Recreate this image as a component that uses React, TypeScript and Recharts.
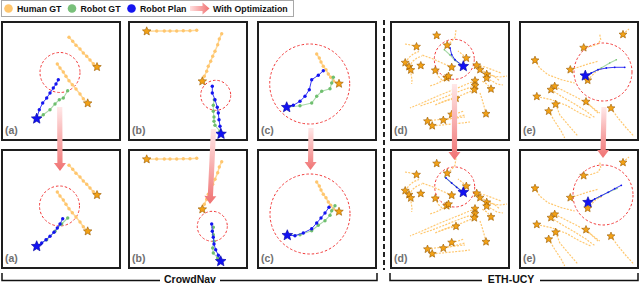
import React from 'react';
import { ScatterChart, Scatter, XAxis, YAxis, ReferenceDot, ReferenceLine } from 'recharts';

type Pt = [number, number];
type Traj = Pt[];

// ---------- Data (panel-local units, 0..120 each axis, y downward) ----------
const sceneA_humans: Traj[] = [
  [[96, 46], [92.3, 42.7], [89, 39], [85.7, 35.3], [82.3, 32], [79, 28], [75, 24.3], [71.7, 20.3], [68, 16.3]],
  [[86.7, 82.3], [82.3, 77.7], [79, 73], [75, 68], [71.3, 63.7], [68, 59.7], [65, 55.3], [62.3, 51], [59, 47], [56.3, 43]],
];
const sceneA_planTop: Traj = [[35.7, 97.7], [38.3, 88.7], [41.7, 82], [45.7, 77], [49, 72], [52.3, 67], [55, 63], [57.3, 58.7]];
const sceneA_gtTop: Traj = [[35.7, 97.7], [42.3, 93.7], [49, 88.7], [54, 83], [58.3, 78.7], [62.3, 77], [66.7, 69.7]];
const sceneA_planBot: Traj = [[35.7, 97.3], [40.7, 94], [45, 90.7], [49, 87.3], [53, 83.3], [56.3, 79], [59, 75], [61.7, 69.7]];
const sceneA_gtBot: Traj = [[35.7, 97.3], [45.7, 90.7], [54, 82.3], [60.7, 75], [66.7, 69]];
const sceneA_circleTop = [59, 51.5, 20];
const sceneA_circleBot = [58.5, 57, 20];

const sceneB_humans: Traj[] = [
  [[18.7, 10.3], [28.7, 10], [36.3, 10], [42, 10], [48.7, 10], [55.3, 9.7], [62, 9.7], [68.7, 9.3]],
  [[74.3, 60.3], [76.3, 55.3], [78.7, 50.3], [80.3, 45.3], [82.7, 40.3], [84.7, 35.3], [87, 30.3], [89.7, 23.7], [91.3, 18], [93.7, 12.7]],
];
const sceneB_planTop: Traj = [[93, 113], [92, 105.3], [91, 98.7], [90.3, 92], [89.3, 86.3], [87, 78.7], [84.3, 72], [84.3, 65.3]];
const sceneB_gtTop: Traj = [[93, 113], [92, 110.3], [87, 104.3], [86, 100.3], [86, 96], [85.3, 90.3], [85.3, 84.3], [86.3, 78.7]];
const sceneB_planBot: Traj = [[92.7, 112.3], [90.3, 106.3], [87.7, 100.7], [86, 95], [85.3, 88.3], [84.3, 82.3], [83.7, 75]];
const sceneB_gtBot: Traj = [[92.7, 112.3], [89.7, 109], [85.3, 104], [84.7, 99], [86, 92.3], [85.3, 85.7], [85.3, 78.3]];
const sceneB_circleTop = [87.7, 74.3, 15];
const sceneB_circleBot = [84.3, 77.3, 15];

const sceneC_humans: Traj[] = [
  [[82, 62.7], [76.3, 59.7], [73.7, 56.3], [71.3, 53], [69, 48.7], [66.3, 45.3], [64, 41], [62.3, 37], [59.7, 33]],
];
const sceneC_planTop: Traj = [[29.7, 86.3], [36.3, 84.3], [43, 80.3], [48, 75.3], [52.3, 68.7], [54.7, 58.7], [61.3, 54.3], [66.3, 49.7]];
const sceneC_gtTop: Traj = [[29.7, 86.3], [43, 84.7], [54.7, 82], [59.7, 75.3], [64.7, 70.3], [73, 67.7], [74.7, 62], [76.3, 56.3]];
const sceneC_planBot: Traj = [[30.3, 86.3], [38, 86.7], [46.3, 84], [54.7, 79.7], [59.7, 74], [64, 69], [68, 64], [72, 58.3]];
const sceneC_gtBot: Traj = [[30.3, 86.3], [43, 85.7], [54.7, 81.7], [61.3, 76.3], [68, 71.7], [73, 66.3], [74.7, 61.7], [78, 56.7]];
const sceneC_circleTop = [52.7, 63, 40];
const sceneC_circleBot = [53, 65, 40];

const sceneD_humans: Traj[] = [
  [[46.7, 14.5]],
  [[57.2, 24.3], [61.7, 20.3], [65, 16.3], [66, 8.7]],
  [[26.5, 25.7], [21, 24], [15, 23]],
  [[15.2, 41.7], [19, 36.5], [24, 32.5], [29, 30.5]],
  [[19, 45.7], [22.5, 40.5], [27, 37], [32, 35]],
  [[20.8, 49], [21.2, 54], [22, 59], [21.7, 63]],
  [[61.7, 46.3], [52, 42], [42, 37.5], [32, 34]],
  [[30.8, 44.6]],
  [[45.3, 49.4], [48.3, 55.3], [51.7, 58.7], [56.7, 60.3]],
  [[56.7, 56.8], [52, 60], [46, 63], [40, 65]],
  [[58.5, 55.2]],
  [[76.3, 37.2], [72, 33], [68, 30]],
  [[86.7, 44.3], [95, 46], [103, 49], [111, 52]],
  [[90, 48.7], [98, 52], [105, 56], [110, 60]],
  [[96.7, 53.3], [103, 55], [110, 56], [117, 55]],
  [[96.7, 57.2], [102, 60], [107, 63], [113, 64]],
  [[85, 59.7], [70, 66], [50, 74], [32, 82], [20, 87]],
  [[85, 64.7], [70, 70], [55, 76], [42, 81], [30, 85]],
  [[84.3, 68.8], [72, 74], [60, 78], [50, 82]],
  [[101, 68], [97, 63], [92, 60]],
  [[96, 92.8], [94, 85], [92, 78], [90, 72]],
  [[37.5, 100.2], [45, 99], [55, 98], [65, 97], [75, 96]],
  [[42.2, 104.8], [52, 104], [62, 103], [72, 102], [80, 101]],
  [[53.3, 99.2], [60, 98], [67, 96], [75, 94]],
  [[61.7, 93.5], [68, 92], [74, 90]],
  [[66, 77.3], [55, 80], [45, 84]],
];
const sceneD_planTop: Traj = [[73.3, 45.3], [65, 38.7], [61.7, 33.7], [60, 27]];
const sceneD_gtTop: Traj = [[73.3, 45.3], [65, 39.5], [60, 34], [54.3, 28.7]];
const sceneD_planBot: Traj = [[73.3, 43.3], [66.7, 38.3], [61.7, 34], [56, 29]];
const sceneD_gtBot: Traj = [[73.3, 43.3], [66, 37.5], [61, 33.5], [55, 28.3]];
const sceneD_circleTop = [64.3, 38.3, 20];
const sceneD_circleBot = [64.7, 38, 20];

const sceneE_humans: Traj[] = [
  [[104, 13.5], [107, 10.5], [110, 8]],
  [[64.7, 26.7], [72.3, 25.3], [79, 23], [81.7, 18.7], [80.7, 13]],
  [[16, 39.3], [20.7, 47], [29, 53.7], [42.3, 58.7], [55.7, 62]],
  [[51.3, 48.7], [59, 46.3], [69, 43], [79, 40.3]],
  [[68.7, 59.3], [72.3, 55.3], [77.3, 50.3], [84, 47]],
  [[35.7, 65.3], [45.7, 70.3], [59, 77], [70.7, 84.3], [79, 92]],
  [[32, 68.7], [42.3, 75.3], [55.7, 83], [67.3, 90.3], [76.3, 97]],
  [[17.8, 75.5], [32.3, 78.7], [47.3, 84.3], [60.7, 92], [71.7, 97]],
  [[67, 80.7], [74, 87], [80.7, 92]],
  [[36.7, 83.3], [40.7, 93.7], [49, 103.7], [59, 115.3]],
  [[29.7, 90.2], [35.7, 100.3], [42.3, 110.3], [45.7, 117]],
  [[92, 87.2], [99, 97], [107.3, 107], [115, 115.3]],
];
const sceneE_planTop: Traj = [[66.3, 54.7], [72.3, 52], [79, 48.7], [87.3, 47], [95.7, 46.3], [105.7, 46.3]];
const sceneE_gtTop: Traj = [[66.3, 54.7], [72.3, 52], [82.3, 47], [90.7, 42], [97.3, 38.7]];
const sceneE_planBot: Traj = [[69, 53.3], [75.7, 50], [82.3, 46.7], [89, 43.3], [95.7, 39.7], [102.3, 36.3]];
const sceneE_gtBot: Traj = [[69, 53.3], [80, 48], [90, 43], [98, 39.5]];
const sceneE_circleTop = [84, 51, 29];
const sceneE_circleBot = [84, 46, 30];

const panelLabels = ['(a)', '(b)', '(c)', '(d)', '(e)'];
const legendLabels = ['Human GT', 'Robot GT', 'Robot Plan', 'With Optimization'];
const groupLabels = ['CrowdNav', 'ETH-UCY'];

// optimization arrows (figure units)
const arrows = [
  [59.7, 107, 60, 171],
  [213.5, 129, 210, 204],
  [311, 128, 310.5, 170],
  [454.5, 84, 454.5, 160],
  [604, 107, 603, 158],
];

// ---------- Layout / style ----------
const PW = 120;
const PH = 120;
const FIG_W = 640;
const FIG_H = 283;
const colLefts = [1, 128, 257, 390, 519];
const rowTops = [21, 149];
const FONT = '"Liberation Sans", Arial, sans-serif';

const HUMAN_DOT = '#FFC66E';
const HUMAN_LINE = '#FFD998';
const HUMAN_TRAIL = '#FFC870';
const STAR_FILL = '#F2A116';
const STAR_STROKE = '#9A5A00';
const GT_DOT = '#6FBF6F';
const GT_LINE = '#A9DAA9';
const PLAN_DOT = '#1414F0';
const PLAN_LINE = '#3A3AF5';
const CIRCLE = '#F23A3A';

const toPts = (t: Traj) => t.map(([x, y]) => ({ x, y }));

function starPoints(cx: number, cy: number, R: number) {
  const pts: string[] = [];
  for (let i = 0; i < 10; i++) {
    const r = i % 2 === 0 ? R : R * 0.45;
    const a = -Math.PI / 2 + (i * Math.PI) / 5;
    pts.push(`${cx + r * Math.cos(a)},${cy + r * Math.sin(a)}`);
  }
  return pts.join(' ');
}

const StarShape = (R: number, fill: string, stroke: string) => (props: any) => {
  const { cx, cy } = props;
  if (cx == null || cy == null) return <g />;
  return <polygon points={starPoints(cx, cy, R)} fill={fill} stroke={stroke} strokeWidth={0.6} strokeLinejoin="round" />;
};
const DotShape = (r: number, fill: string) => (props: any) => {
  const { cx, cy } = props;
  if (cx == null || cy == null) return <g />;
  return <circle cx={cx} cy={cy} r={r} fill={fill} />;
};
const NoShape = () => <g />;

function arrowPolygon(x1: number, y1: number, x2: number, y2: number, sw: number, hw: number, hl: number) {
  const dx = x2 - x1;
  const dy = y2 - y1;
  const len = Math.hypot(dx, dy) || 1;
  const ux = dx / len;
  const uy = dy / len;
  const px = -uy;
  const py = ux;
  const bx = x2 - ux * hl;
  const by = y2 - uy * hl;
  const pts = [
    [x1 + px * sw, y1 + py * sw],
    [bx + px * sw, by + py * sw],
    [bx + px * hw, by + py * hw],
    [x2, y2],
    [bx - px * hw, by - py * hw],
    [bx - px * sw, by - py * sw],
    [x1 - px * sw, y1 - py * sw],
  ];
  return pts.map((p) => p.join(',')).join(' ');
}

const ArrowShape = (id: string) => (props: any) => {
  const { x1, y1, x2, y2 } = props;
  if ([x1, y1, x2, y2].some((v) => v == null || isNaN(v))) return <g />;
  return (
    <g>
      <defs>
        <linearGradient id={id} gradientUnits="userSpaceOnUse" x1={x1} y1={y1} x2={x2} y2={y2}>
          <stop offset="0" stopColor="#FFE8E8" />
          <stop offset="1" stopColor="#F07272" />
        </linearGradient>
      </defs>
      <polygon points={arrowPolygon(x1, y1, x2, y2, 2.6, 6, 8)} fill={`url(#${id})`} />
    </g>
  );
};

type PanelProps = {
  left: number;
  top: number;
  humans: Traj[];
  dotted: boolean;
  plan: Traj;
  gt: Traj;
  circle: number[];
};

function Panel({ left, top, humans, dotted, plan, gt, circle }: PanelProps) {
  const stars = humans.map((t) => ({ x: t[0][0], y: t[0][1] }));
  return (
    <div style={{ position: 'absolute', left, top, width: PW, height: PH, background: '#fff' }}>
      <ScatterChart width={PW} height={PH} margin={{ top: 0, right: 0, bottom: 0, left: 0 }}>
        <XAxis type="number" dataKey="x" domain={[0, PW]} allowDataOverflow hide />
        <YAxis type="number" dataKey="y" domain={[0, PH]} allowDataOverflow reversed hide />
        <ReferenceDot
          x={circle[0]}
          y={circle[1]}
          r={circle[2]}
          fill="none"
          stroke={CIRCLE}
          strokeWidth={1}
          strokeDasharray="2.5 2"
          ifOverflow="visible"
        />
        {humans.map((t, i) =>
          dotted ? (
            <Scatter
              key={'h' + i}
              data={toPts(t)}
              line={{ stroke: HUMAN_TRAIL, strokeWidth: 1.2, strokeDasharray: '2 1.3' }}
              shape={NoShape}
              isAnimationActive={false}
            />
          ) : (
            <Scatter
              key={'h' + i}
              data={toPts(t)}
              line={{ stroke: HUMAN_LINE, strokeWidth: 1.5 }}
              shape={DotShape(1.7, HUMAN_DOT)}
              isAnimationActive={false}
            />
          )
        )}
        <Scatter
          data={toPts(gt)}
          line={{ stroke: GT_LINE, strokeWidth: 1.1 }}
          shape={DotShape(dotted ? 0.8 : 1.7, GT_DOT)}
          isAnimationActive={false}
        />
        <Scatter
          data={toPts(plan)}
          line={{ stroke: PLAN_LINE, strokeWidth: 1 }}
          shape={DotShape(dotted ? 0.9 : 1.7, PLAN_DOT)}
          isAnimationActive={false}
        />
        <Scatter data={stars} shape={StarShape(dotted ? 4.2 : 4.5, STAR_FILL, STAR_STROKE)} isAnimationActive={false} />
        <Scatter data={[{ x: plan[0][0], y: plan[0][1] }]} shape={StarShape(5.6, '#1212F2', '#0000A0')} isAnimationActive={false} />
      </ScatterChart>
      <div
        style={{
          position: 'absolute',
          left: 0,
          top: 0,
          width: PW,
          height: PH,
          border: '2px solid #1e1e1e',
          boxSizing: 'border-box',
        }}
      />
    </div>
  );
}

const scenes = [
  { humans: sceneA_humans, dotted: false, rows: [[sceneA_planTop, sceneA_gtTop, sceneA_circleTop], [sceneA_planBot, sceneA_gtBot, sceneA_circleBot]] },
  { humans: sceneB_humans, dotted: false, rows: [[sceneB_planTop, sceneB_gtTop, sceneB_circleTop], [sceneB_planBot, sceneB_gtBot, sceneB_circleBot]] },
  { humans: sceneC_humans, dotted: false, rows: [[sceneC_planTop, sceneC_gtTop, sceneC_circleTop], [sceneC_planBot, sceneC_gtBot, sceneC_circleBot]] },
  { humans: sceneD_humans, dotted: true, rows: [[sceneD_planTop, sceneD_gtTop, sceneD_circleTop], [sceneD_planBot, sceneD_gtBot, sceneD_circleBot]] },
  { humans: sceneE_humans, dotted: true, rows: [[sceneE_planTop, sceneE_gtTop, sceneE_circleTop], [sceneE_planBot, sceneE_gtBot, sceneE_circleBot]] },
];

export default function App() {
  const txt = { fontFamily: FONT, fontWeight: 700 } as const;
  return (
    <div style={{ position: 'absolute', left: 0, top: 0, width: FIG_W, height: FIG_H, background: '#fff', overflow: 'hidden' }}>
      {scenes.map((s, si) =>
        s.rows.map((r, ri) => (
          <Panel
            key={si + '-' + ri}
            left={colLefts[si]}
            top={rowTops[ri]}
            humans={s.humans}
            dotted={s.dotted}
            plan={r[0] as Traj}
            gt={r[1] as Traj}
            circle={r[2] as number[]}
          />
        ))
      )}

      {/* decorations: legend, labels, separator, brackets */}
      <svg width={FIG_W} height={FIG_H} style={{ position: 'absolute', left: 0, top: 0, pointerEvents: 'none' }}>
        <defs>
          <linearGradient id="legArrow" x1="0" y1="0" x2="1" y2="0">
            <stop offset="0" stopColor="#FFE0E0" />
            <stop offset="1" stopColor="#F07272" />
          </linearGradient>
        </defs>
        <rect x={1.5} y={0.5} width={292} height={16} fill="#fff" stroke="#a8a8a8" strokeWidth={1} />
        <circle cx={8.5} cy={8.5} r={4.3} fill={HUMAN_DOT} />
        <text x={17} y={11.8} fontSize={8.8} fill="#111" style={txt}>{legendLabels[0]}</text>
        <circle cx={72} cy={8.5} r={4.3} fill="#79C07A" />
        <text x={80.5} y={11.8} fontSize={8.8} fill="#111" style={txt}>{legendLabels[1]}</text>
        <circle cx={131.5} cy={8.5} r={4.3} fill={PLAN_DOT} />
        <text x={140} y={11.8} fontSize={8.8} fill="#111" style={txt}>{legendLabels[2]}</text>
        <polygon points={arrowPolygon(190, 8.5, 209.5, 8.5, 2.6, 6, 7)} fill="url(#legArrow)" />
        <text x={213} y={11.8} fontSize={8.8} fill="#111" style={txt}>{legendLabels[3]}</text>

        {colLefts.map((l, ci) =>
          rowTops.map((t, ri) => (
            <text key={ci + '-' + ri} x={l + 4} y={t + 112.5} fontSize={10.5} fill="#707070" style={txt}>
              {panelLabels[ci]}
            </text>
          ))
        )}

        <line x1={384} y1={20} x2={384} y2={270} stroke="#222" strokeWidth={2} strokeDasharray="5 3" />

        <path d="M2,273 L2,280.5 L160,280.5 M220,280.5 L377,280.5 L377,273" fill="none" stroke="#111" strokeWidth={1.5} />
        <text x={190} y={282.5} fontSize={10.5} textAnchor="middle" fill="#111" style={txt}>{groupLabels[0]}</text>
        <path d="M390,273 L390,280.5 L482,280.5 M540,280.5 L638,280.5 L638,273" fill="none" stroke="#111" strokeWidth={1.5} />
        <text x={511} y={282.5} fontSize={10.5} textAnchor="middle" fill="#111" style={txt}>{groupLabels[1]}</text>
      </svg>

      {/* optimization arrows */}
      <div style={{ position: 'absolute', left: 0, top: 0, pointerEvents: 'none' }}>
        <ScatterChart width={FIG_W} height={FIG_H} margin={{ top: 0, right: 0, bottom: 0, left: 0 }}>
          <XAxis type="number" dataKey="x" domain={[0, FIG_W]} allowDataOverflow hide />
          <YAxis type="number" dataKey="y" domain={[0, FIG_H]} allowDataOverflow reversed hide />
          <Scatter data={[]} isAnimationActive={false} />
          {arrows.map((a, i) => (
            <ReferenceLine
              key={'ar' + i}
              segment={[{ x: a[0], y: a[1] }, { x: a[2], y: a[3] }]}
              shape={ArrowShape('arrowGrad' + i)}
              ifOverflow="visible"
            />
          ))}
        </ScatterChart>
      </div>
    </div>
  );
}
